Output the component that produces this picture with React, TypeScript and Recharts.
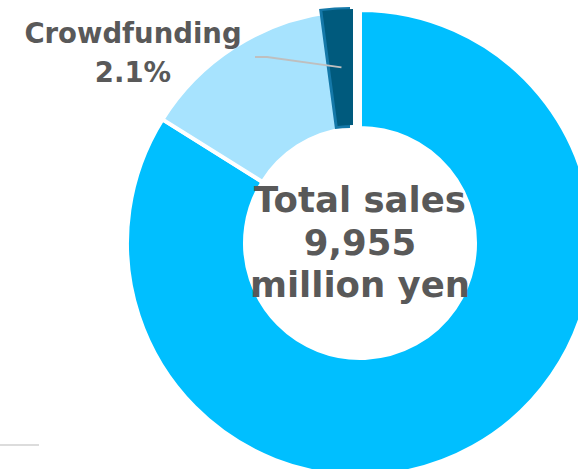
import React from 'react';
import { PieChart, Pie, Cell } from 'recharts';

// share of total sales, percent (clockwise from 12 o'clock)
const segmentNames = ['Product sales', 'Other sales', 'Crowdfunding'];
const segmentShares = [83.9, 14.0, 2.1];
const segmentColors = ['#00BFFF', '#A7E3FE', '#005A7D'];
const highlightName = 'Crowdfunding';
const highlightEdge = '#1478A8';

const totalSales = 9955; // million yen
const centerLines = ['Total sales', totalSales.toLocaleString('en-US'), 'million yen'];

const data = segmentNames.map((name, i) => ({ name, share: segmentShares[i] }));

const RADIAN = Math.PI / 180;
const TEXT = '#595959';
const FONT = '"DejaVu Sans", Verdana, sans-serif';

// total in the donut hole
const renderCenter = (props: any) => {
  if (props.index !== 0) return <g />;
  const { cx, cy } = props;
  return (
    <text x={cx} y={cy - 31} textAnchor="middle" fill={TEXT} fontFamily={FONT} fontWeight={700} fontSize={35.5}>
      {centerLines.map((line, i) => (
        <tspan key={line} x={cx} dy={i === 0 ? 0 : 42.5}>
          {line}
        </tspan>
      ))}
    </text>
  );
};

// callout for the pulled-out slice
const renderCallout = (props: any) => {
  if (props.name !== highlightName) return <g />;
  const { cx, cy, midAngle, innerRadius, outerRadius, value } = props;
  const r = (innerRadius + outerRadius) / 2;
  const ex = cx + r * Math.cos(-midAngle * RADIAN);
  const ey = cy + r * Math.sin(-midAngle * RADIAN);
  return (
    <g>
      <polyline
        points={`255,57 267,57 ${ex},${ey}`}
        fill="none"
        stroke="#BFBFBF"
        strokeWidth={2}
      />
      <text x={133} y={43} textAnchor="middle" fill={TEXT} fontFamily={FONT} fontWeight={700} fontSize={27.5}>
        <tspan x={133} dy={0}>{props.name}</tspan>
        <tspan x={133} dy={39}>{`${Number(value).toFixed(1)}%`}</tspan>
      </text>
    </g>
  );
};

const App: React.FC = () => (
  <div style={{ position: 'absolute', left: 0, top: 0, width: 578, height: 469, background: '#fff' }}>
    <div style={{ position: 'absolute', left: 0, top: 444, width: 39, height: 2, background: '#DCDCDC' }} />
    <PieChart width={578} height={469} margin={{ top: 0, right: 0, bottom: 0, left: 0 }}>
      {/* base ring; highlighted slice left empty here */}
      <Pie
        data={data}
        dataKey="share"
        nameKey="name"
        cx={360}
        cy={243}
        innerRadius={115}
        outerRadius={233}
        startAngle={90}
        endAngle={-270}
        isAnimationActive={false}
        label={renderCenter}
        labelLine={false}
      >
        {data.map((d, i) => (
          <Cell
            key={`base-${i}`}
            fill={d.name === highlightName ? 'none' : segmentColors[i]}
            stroke={d.name === highlightName ? 'none' : '#fff'}
            strokeWidth={4}
          />
        ))}
      </Pie>
      {/* pulled-out slice: edge layer */}
      <Pie
        data={data}
        dataKey="share"
        nameKey="name"
        cx={350}
        cy={242}
        innerRadius={114}
        outerRadius={235}
        startAngle={90}
        endAngle={-270}
        isAnimationActive={false}
      >
        {data.map((d, i) => (
          <Cell key={`edge-${i}`} fill={d.name === highlightName ? highlightEdge : 'none'} stroke="none" />
        ))}
      </Pie>
      {/* pulled-out slice: fill layer */}
      <Pie
        data={data}
        dataKey="share"
        nameKey="name"
        cx={353}
        cy={242}
        innerRadius={117}
        outerRadius={233}
        startAngle={90}
        endAngle={-270}
        isAnimationActive={false}
        label={renderCallout}
        labelLine={false}
      >
        {data.map((d, i) => (
          <Cell key={`fill-${i}`} fill={d.name === highlightName ? segmentColors[i] : 'none'} stroke="none" />
        ))}
      </Pie>
    </PieChart>
  </div>
);

export default App;
